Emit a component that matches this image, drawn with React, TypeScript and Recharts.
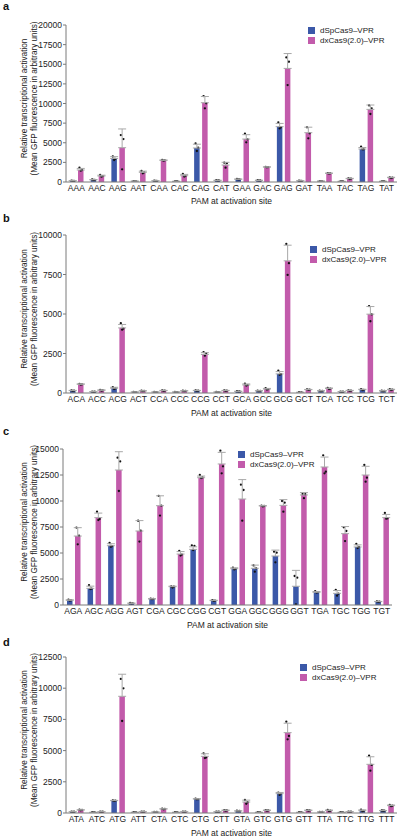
import React from 'react';
import { BarChart, Bar, XAxis, YAxis, ErrorBar, Legend, Label } from 'recharts';

const BLUE = '#3b58a8';
const PINK = '#c25bab';
const AXIS = '#7a7a7a';
const TXT = '#222';
const FONT = '"Liberation Sans", Arial, Helvetica, sans-serif';

const SERIES_BLUE = 'dSpCas9–VPR';
const SERIES_PINK = 'dxCas9(2.0)–VPR';

// ---------- Panel a ----------
const aCategories = ['AAA', 'AAC', 'AAG', 'AAT', 'CAA', 'CAC', 'CAG', 'CAT', 'GAA', 'GAC', 'GAG', 'GAT', 'TAA', 'TAC', 'TAG', 'TAT'];
const aBlue = [150, 280, 3000, 100, 150, 80, 4330, 200, 350, 200, 7050, 150, 100, 80, 4200, 80];
const aBlueDots = [[180, 140, 130], [320, 260, 260], [3250, 2950, 2800], [120, 90, 90], [170, 140, 140], [90, 80, 70], [4920, 4370, 3950], [230, 190, 180], [380, 340, 330], [230, 190, 180], [7600, 6960, 6830], [170, 140, 140], [120, 90, 90], [90, 80, 70], [4500, 4160, 4160], [90, 80, 70]];
const aPink = [1530, 760, 4370, 1230, 2760, 800, 10100, 2160, 5470, 1900, 14470, 6280, 1100, 420, 9250, 550];
const aPinkDots = [[1820, 1530, 1440], [890, 760, 680], [5980, 5470, 1610], [1400, 1230, 1100], [2800, 2760, 2720], [1020, 760, 700], [10950, 10020, 9380], [2460, 2380, 1820], [6150, 5430, 5050], [1930, 1900, 1870], [15870, 15320, 12350], [6960, 6200, 5560], [1130, 1100, 1070], [470, 420, 380], [9760, 9380, 8660], [600, 550, 500]];
const aTicks = [0, 2500, 5000, 7500, 10000, 12500, 15000, 17500, 20000];

// ---------- Panel b ----------
const bCategories = ['ACA', 'ACC', 'ACG', 'ACT', 'CCA', 'CCC', 'CCG', 'CCT', 'GCA', 'GCC', 'GCG', 'GCT', 'TCA', 'TCC', 'TCG', 'TCT'];
const bBlue = [150, 80, 300, 60, 60, 60, 150, 60, 100, 130, 1210, 40, 130, 80, 210, 130];
const bBlueDots = [[170, 150, 140], [90, 80, 70], [370, 290, 250], [70, 60, 50], [70, 60, 50], [70, 60, 50], [170, 150, 140], [70, 60, 50], [110, 100, 90], [150, 130, 110], [1420, 1190, 1150], [50, 40, 30], [150, 130, 110], [90, 80, 70], [240, 200, 190], [150, 130, 110]];
const bPink = [550, 170, 4120, 130, 150, 130, 2440, 150, 510, 250, 8365, 210, 280, 150, 4990, 210];
const bPinkDots = [[580, 550, 530], [200, 170, 150], [4415, 4075, 4010], [150, 130, 120], [170, 150, 140], [150, 130, 120], [2590, 2500, 2360], [170, 150, 140], [590, 500, 470], [300, 240, 220], [9430, 8215, 7470], [230, 210, 200], [320, 280, 250], [170, 150, 140], [5500, 4970, 4540], [240, 210, 190]];
const bTicks = [0, 2500, 5000, 7500, 10000];

// ---------- Panel c ----------
const cCategories = ['AGA', 'AGC', 'AGG', 'AGT', 'CGA', 'CGC', 'CGG', 'CGT', 'GGA', 'GGC', 'GGG', 'GGT', 'TGA', 'TGC', 'TGG', 'TGT'];
const cBlue = [450, 1600, 5700, 160, 580, 1760, 5350, 420, 3490, 3530, 4710, 1800, 1220, 1120, 5580, 320];
const cBlueDots = [[520, 450, 420], [1920, 1570, 1540], [5960, 5670, 5600], [190, 160, 140], [620, 580, 560], [1780, 1760, 1680], [5740, 5680, 5290], [470, 420, 390], [3590, 3480, 3420], [3810, 3530, 3200], [5130, 5030, 4100], [2790, 2630, 64], [1330, 1220, 1190], [1440, 1090, 900], [5865, 5580, 5470], [340, 320, 300]];
const cPink = [6630, 8400, 12980, 7115, 9550, 4900, 12240, 13560, 10190, 9520, 9580, 10580, 13270, 6860, 12500, 8400];
const cPinkDots = [[7440, 6670, 5830], [8970, 8270, 8170], [14170, 13810, 10960], [8100, 7150, 6100], [10500, 9550, 8600], [5200, 4850, 4750], [12500, 12260, 12200], [14840, 13330, 12660], [11570, 11060, 8110], [9560, 9520, 9480], [10000, 9840, 8970], [10680, 10650, 10270], [14390, 12820, 12660], [7470, 7115, 6150], [13460, 12240, 11860], [8850, 8330, 8300]];
const cTicks = [0, 2500, 5000, 7500, 10000, 12500, 15000];

// ---------- Panel d ----------
const dCategories = ['ATA', 'ATC', 'ATG', 'ATT', 'CTA', 'CTC', 'CTG', 'CTT', 'GTA', 'GTC', 'GTG', 'GTT', 'TTA', 'TTC', 'TTG', 'TTT'];
const dBlue = [100, 50, 990, 50, 80, 50, 1120, 100, 160, 50, 1550, 50, 80, 50, 190, 190];
const dBlueDots = [[110, 100, 90], [60, 50, 40], [1010, 990, 970], [60, 50, 40], [90, 80, 70], [60, 50, 40], [1150, 1110, 1100], [110, 100, 90], [180, 160, 150], [60, 50, 40], [1640, 1560, 1450], [60, 50, 40], [90, 80, 70], [60, 50, 40], [260, 170, 140], [200, 190, 180]];
const dPink = [240, 100, 9350, 100, 320, 100, 4540, 210, 880, 210, 6440, 210, 190, 100, 3900, 590];
const dPinkDots = [[260, 240, 220], [110, 100, 90], [10740, 9990, 7370], [110, 100, 90], [340, 320, 300], [110, 100, 90], [4780, 4450, 4400], [230, 210, 190], [1040, 860, 740], [230, 210, 190], [7320, 6170, 5900], [230, 210, 190], [240, 180, 150], [110, 100, 90], [4590, 3850, 3390], [640, 580, 550]];
const dTicks = [0, 2500, 5000, 7500, 10000, 12500];

function sd(arr: number[]) {
  const m = arr.reduce((s, v) => s + v, 0) / arr.length;
  return Math.sqrt(arr.reduce((s, v) => s + (v - m) * (v - m), 0) / (arr.length - 1));
}

function buildRows(cats: string[], blue: number[], pink: number[], blueDots: number[][], pinkDots: number[][]) {
  return cats.map((c, i) => ({
    pam: c,
    blue: blue[i],
    pink: pink[i],
    blueErr: [0, sd(blueDots[i])],
    pinkErr: [0, sd(pinkDots[i])],
    blueDots: blueDots[i],
    pinkDots: pinkDots[i],
  }));
}

const makeShape = (dotsKey: string, fill: string, valueKey: string) => (props: any) => {
  const { x, y, width, height, payload } = props;
  const value = payload[valueKey];
  const base = y + height;
  const ratio = value ? height / value : 0;
  const dots: number[] = payload[dotsKey] || [];
  const offs = [-1.3, 1.3, 0];
  return (
    <g>
      <rect x={x} y={y} width={width} height={Math.max(height, 0)} fill={fill} />
      {dots.map((d, i) => (
        <circle key={i} cx={x + width / 2 + offs[i]} cy={base - d * ratio} r={1.15} fill="#111" />
      ))}
    </g>
  );
};

const blueShape = makeShape('blueDots', BLUE, 'blue');
const pinkShape = makeShape('pinkDots', PINK, 'pink');

const YLabel = (props: any) => {
  const vb = props.viewBox || {};
  const cy = (vb.y ?? 25) + (vb.height ?? 157) / 2 - 5;
  return (
    <g>
      <text x={24} y={cy} transform={`rotate(-90 24 ${cy})`} textAnchor="middle" dominantBaseline="central" fontSize={8.2} fill={TXT} fontFamily={FONT}>
        Relative transcriptional activation
      </text>
      <text x={34} y={cy} transform={`rotate(-90 34 ${cy})`} textAnchor="middle" dominantBaseline="central" fontSize={8.2} fill={TXT} fontFamily={FONT}>
        (Mean GFP fluorescence in arbitrary units)
      </text>
    </g>
  );
};

const LegendContent = (props: any) => {
  const payload = props.payload || [];
  return (
    <div style={{ fontFamily: FONT, fontSize: 8, color: TXT }}>
      {payload.map((e: any, i: number) => (
        <div key={i} style={{ display: 'flex', alignItems: 'center', height: 10, whiteSpace: 'nowrap' }}>
          <span style={{ display: 'inline-block', width: 7, height: 7, background: e.color, marginRight: 5 }} />
          <span>{e.value}</span>
        </div>
      ))}
    </div>
  );
};

type PanelProps = {
  letter: string;
  top: number;
  height: number;
  rows: any[];
  max: number;
  ticks: number[];
  marginTop: number;
  xAxisHeight: number;
  yAxisWidth: number;
  marginRight: number;
  titleOffset: number;
  legendLeft: number;
  legendTop: number;
  letterTop: number;
};

function Panel(p: PanelProps) {
  return (
    <div style={{ position: 'absolute', left: 0, top: p.top, width: 400, height: p.height }}>
      <div style={{ position: 'absolute', left: 3, top: p.letterTop, fontFamily: FONT, fontWeight: 'bold', fontSize: 11, lineHeight: '11px', color: '#111' }}>
        {p.letter}
      </div>
      <BarChart
        width={400}
        height={p.height}
        data={p.rows}
        margin={{ top: p.marginTop, right: p.marginRight, bottom: 0, left: 0 }}
        barSize={5.5}
        barGap={2.5}
        style={{ fontFamily: FONT }}
      >
        <XAxis
          dataKey="pam"
          interval={0}
          tickLine={false}
          tickSize={0}
          tickMargin={3}
          height={p.xAxisHeight}
          axisLine={{ stroke: AXIS }}
          tick={{ fontSize: 8.5, fill: TXT, fontFamily: FONT }}
        >
          <Label value="PAM at activation site" position="insideBottom" offset={p.titleOffset} style={{ fontSize: 8.5, fill: TXT, fontFamily: FONT }} />
        </XAxis>
        <YAxis
          type="number"
          domain={[0, p.max]}
          ticks={p.ticks}
          interval={0}
          allowDataOverflow
          width={p.yAxisWidth}
          tickSize={3}
          tickMargin={1}
          axisLine={{ stroke: AXIS }}
          tickLine={{ stroke: AXIS }}
          tick={{ fontSize: 8.5, fill: TXT, fontFamily: FONT }}
          label={<YLabel />}
        />
        <Legend
          layout="vertical"
          align="center"
          verticalAlign="middle"
          content={<LegendContent />}
          wrapperStyle={{ left: p.legendLeft, top: p.legendTop, width: 'auto', height: 'auto' }}
        />
        <Bar dataKey="blue" name={SERIES_BLUE} fill={BLUE} shape={blueShape} isAnimationActive={false}>
          <ErrorBar dataKey="blueErr" direction="y" width={4} stroke="#a8a8a8" strokeWidth={1} isAnimationActive={false} />
        </Bar>
        <Bar dataKey="pink" name={SERIES_PINK} fill={PINK} shape={pinkShape} isAnimationActive={false}>
          <ErrorBar dataKey="pinkErr" direction="y" width={4} stroke="#a8a8a8" strokeWidth={1} isAnimationActive={false} />
        </Bar>
      </BarChart>
    </div>
  );
}

export default function App() {
  const aRows = buildRows(aCategories, aBlue, aPink, aBlueDots, aPinkDots);
  const bRows = buildRows(bCategories, bBlue, bPink, bBlueDots, bPinkDots);
  const cRows = buildRows(cCategories, cBlue, cPink, cBlueDots, cPinkDots);
  const dRows = buildRows(dCategories, dBlue, dPink, dBlueDots, dPinkDots);
  return (
    <div style={{ position: 'absolute', left: 0, top: 0, width: 400, height: 839, background: '#fff', overflow: 'hidden' }}>
      <Panel letter="a" top={0} height={212} rows={aRows} max={20000} ticks={aTicks} marginTop={25} xAxisHeight={30} yAxisWidth={66} marginRight={3} titleOffset={8} legendLeft={308} legendTop={25} letterTop={1} />
      <Panel letter="b" top={212} height={212} rows={bRows} max={10000} ticks={bTicks} marginTop={23} xAxisHeight={31} yAxisWidth={66} marginRight={3} titleOffset={8} legendLeft={310} legendTop={32} letterTop={1} />
      <Panel letter="c" top={424} height={212} rows={cRows} max={15000} ticks={cTicks} marginTop={25} xAxisHeight={31} yAxisWidth={63} marginRight={8} titleOffset={8} legendLeft={238} legendTop={25} letterTop={2} />
      <Panel letter="d" top={636} height={203} rows={dRows} max={12500} ticks={dTicks} marginTop={21} xAxisHeight={26} yAxisWidth={66} marginRight={3} titleOffset={3} legendLeft={300} legendTop={26} letterTop={1} />
    </div>
  );
}
